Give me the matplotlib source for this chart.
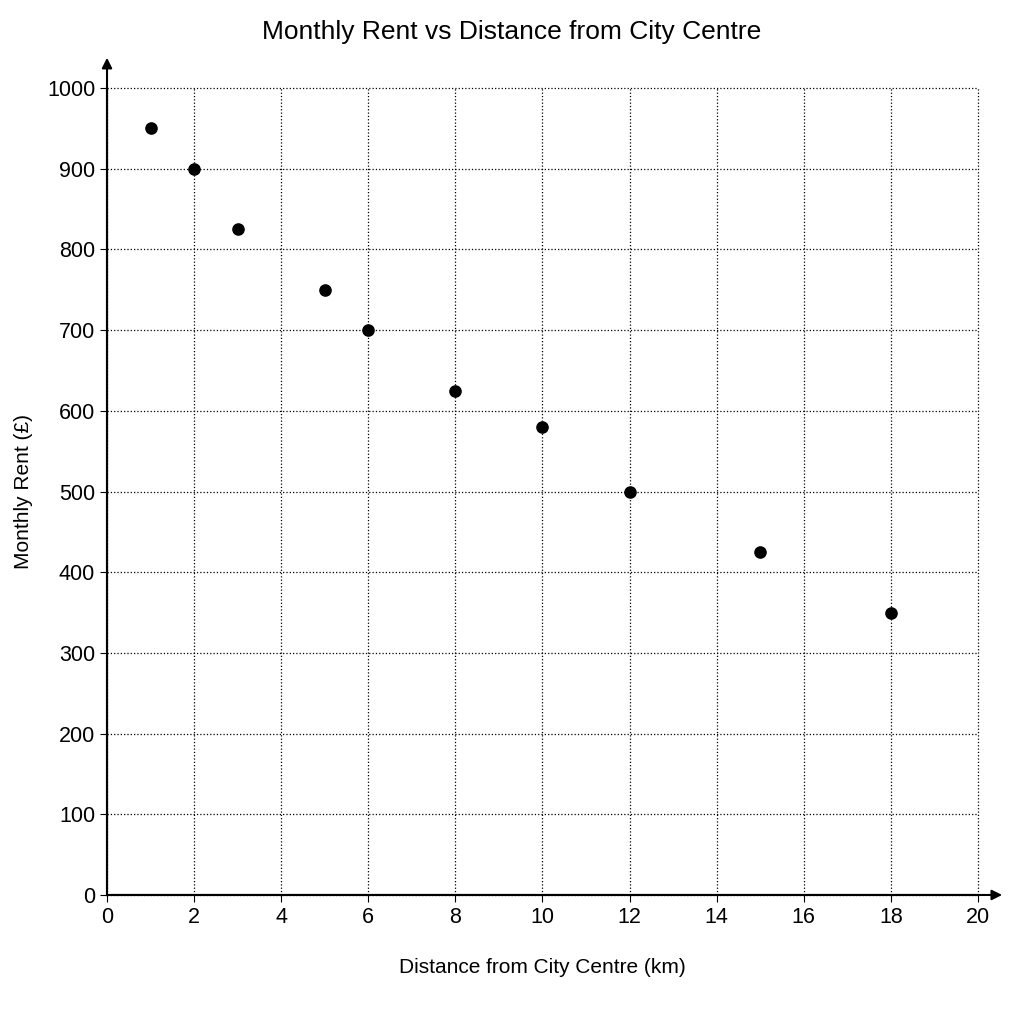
import numpy as np
import matplotlib.pyplot as plt

plt.rcParams['font.family'] = ['Liberation Sans', 'DejaVu Sans']

# data
distance_km = [1, 2, 3, 5, 6, 8, 10, 12, 15, 18]
rent_gbp = [950, 900, 825, 750, 700, 625, 580, 500, 425, 350]
x_ticks = list(range(0, 21, 2))
y_ticks = list(range(0, 1001, 100))

fig = plt.figure(figsize=(10.24, 10.24), dpi=100)
ax = fig.add_axes([0.1045, 0.126, 0.8505, 0.788])

ax.scatter(distance_km, rent_gbp, s=65, color='black', zorder=3, clip_on=False)

ax.set_xlim(0, 20)
ax.set_ylim(0, 1000)
ax.set_xticks(x_ticks)
ax.set_yticks(y_ticks)
ax.tick_params(axis='both', labelsize=15.5, length=5, width=0.8, color='black')
ax.grid(True, linestyle=':', color='black', linewidth=0.9)
ax.set_axisbelow(True)
# keep the outer grid lines (x=20, y=1000) fully visible
for line in ax.get_xgridlines() + ax.get_ygridlines():
    line.set_clip_on(False)

for s in ['top', 'right']:
    ax.spines[s].set_visible(False)
for s in ['left', 'bottom']:
    ax.spines[s].set_linewidth(1.5)

# arrow heads on the axes
ax.annotate('', xy=(0, 1.041), xytext=(0, 0), xycoords='axes fraction',
            arrowprops=dict(arrowstyle='-|>', color='black', lw=1.5, mutation_scale=15),
            annotation_clip=False)
ax.annotate('', xy=(1.031, 0), xytext=(0, 0), xycoords='axes fraction',
            arrowprops=dict(arrowstyle='-|>', color='black', lw=1.5, mutation_scale=15),
            annotation_clip=False)

ax.set_xlabel('Distance from City Centre (km)', fontsize=15, labelpad=22)
ax.set_ylabel('Monthly Rent (£)', fontsize=15, labelpad=10)
fig.suptitle('Monthly Rent vs Distance from City Centre', fontsize=19, y=0.98)

fig.savefig('out.png', dpi=100)
